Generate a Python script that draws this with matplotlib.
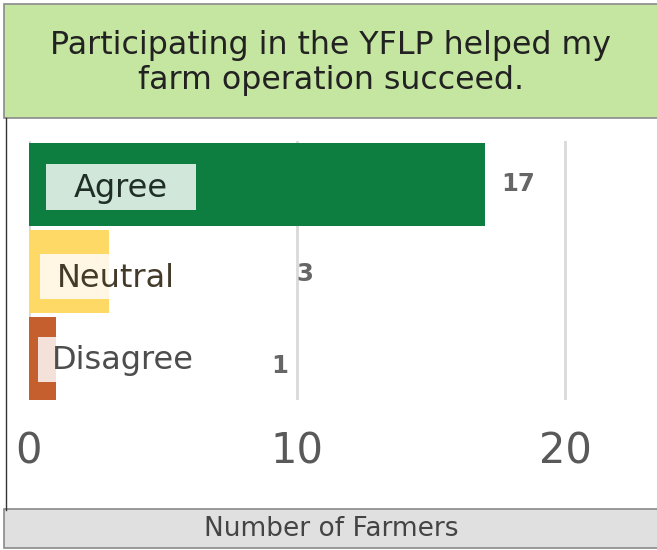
import matplotlib.pyplot as plt
from matplotlib.patches import Rectangle

# data
categories = ["Agree", "Neutral", "Disagree"]
counts = [17, 3, 1]
xticks = [0, 10, 20]

title = "Participating in the YFLP helped my\nfarm operation succeed."
xlabel = "Number of Farmers"

# styling
bar_colors = ["#0e7e40", "#ffd966", "#c55f2d"]
box_colors = ["#d1e7da", "#fff7e4", "#f4e2da"]
label_colors = ["#1f2f27", "#433a2a", "#4d4d4d"]
box_x = [(0.63, 5.6), (0.41, 5.0), (0.34, 5.0)]      # start, width (data units)
label_x = [3.43, 1.05, 0.86]
label_ha = ["center", "left", "left"]
label_dy = [0.03, 0.06, 0.01]
value_x = [18.25, 10.3, 9.37]
value_dy = [0.0, 0.03, 0.09]

W, H = 657, 550
fig = plt.figure(figsize=(W / 100, H / 100), dpi=100)

def fx(px):
    return px / W

def fy(py):
    return 1 - py / H

# title box
fig.patches.append(Rectangle((fx(4), fy(118)), fx(700), fy(4) - fy(118),
                             transform=fig.transFigure, facecolor="#c5e6a0",
                             edgecolor="#8a8a8a", lw=1.2))
fig.text(fx(331), fy(63), title, ha="center", va="center", fontsize=22.8,
         color="#222222", linespacing=1.2)

# left frame line
fig.add_artist(plt.Line2D([fx(5.5), fx(5.5)], [fy(118), fy(510)],
                          transform=fig.transFigure, color="#333333", lw=1))

# x label box
fig.patches.append(Rectangle((fx(4), fy(548)), fx(700), fy(509) - fy(548),
                             transform=fig.transFigure, facecolor="#e0e0e0",
                             edgecolor="#8a8a8a", lw=1.2))
fig.text(fx(331), fy(529), xlabel, ha="center", va="center", fontsize=19,
         color="#444444")

ax = fig.add_axes([fx(29), fy(400), fx(W - 29), fy(141) - fy(400)])
ypos = list(range(len(categories)))
bars = ax.barh(ypos, counts, height=0.955, color=bar_colors, zorder=2)

for i, b in enumerate(bars):
    x0, w = box_x[i]
    r = Rectangle((x0, ypos[i] - 0.26 + label_dy[i]), w, 0.52,
                  facecolor=box_colors[i], edgecolor="none", zorder=3)
    ax.add_patch(r)
    r.set_clip_path(b)
    ax.text(label_x[i], ypos[i] + label_dy[i] + 0.02, categories[i], ha=label_ha[i],
            va="center", fontsize=23, color=label_colors[i], zorder=4)
    ax.text(value_x[i], ypos[i] + value_dy[i], str(counts[i]), ha="center",
            va="center", fontsize=17.5, color="#666666", fontweight="bold", zorder=4)

ax.set_xlim(0, (W - 29) / 26.8)
ax.set_ylim(2.48, -0.5)
ax.set_xticks(xticks)
ax.set_yticks([])
ax.tick_params(axis="x", length=0, pad=22, labelsize=30, labelcolor="#595959")
ax.grid(axis="x", color="#d9d9d9", lw=2, zorder=1)
for s in ax.spines.values():
    s.set_visible(False)

fig.savefig("out.png", dpi=100)
